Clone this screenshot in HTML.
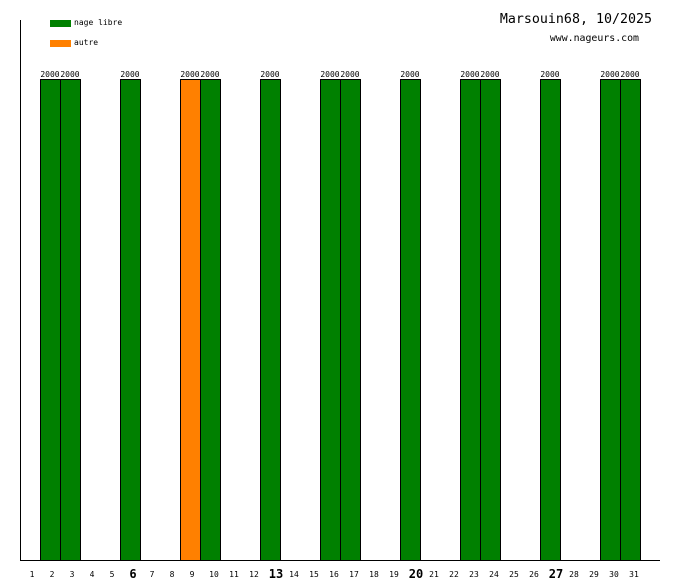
<!DOCTYPE html>
<html><head><meta charset="utf-8"><style>
html,body{margin:0;padding:0;background:#fff;}
svg{display:block;}
text{font-family:"DejaVu Sans Mono","Liberation Mono",monospace;fill:#000;}
</style></head><body>
<svg width="680" height="580" viewBox="0 0 680 580" xmlns="http://www.w3.org/2000/svg">
<rect width="680" height="580" fill="#fff"/>
<line x1="20.5" y1="20" x2="20.5" y2="560" stroke="#000"/>
<line x1="20" y1="560.5" x2="660" y2="560.5" stroke="#000"/>
<rect x="50" y="20" width="21" height="7" fill="#008000"/>
<text x="74" y="25" font-size="8">nage libre</text>
<rect x="50" y="40" width="21" height="7" fill="#ff8000"/>
<text x="74" y="45" font-size="8">autre</text>
<text x="652" y="23" font-size="13.3" text-anchor="end">Marsouin68, 10/2025</text>
<text x="639" y="41" font-size="9.9" text-anchor="end">www.nageurs.com</text>
<g stroke="#000" stroke-width="1">
<rect x="40.5" y="79.5" width="20" height="481" fill="#008000"/>
<rect x="60.5" y="79.5" width="20" height="481" fill="#008000"/>
<rect x="120.5" y="79.5" width="20" height="481" fill="#008000"/>
<rect x="180.5" y="79.5" width="20" height="481" fill="#ff8000"/>
<rect x="200.5" y="79.5" width="20" height="481" fill="#008000"/>
<rect x="260.5" y="79.5" width="20" height="481" fill="#008000"/>
<rect x="320.5" y="79.5" width="20" height="481" fill="#008000"/>
<rect x="340.5" y="79.5" width="20" height="481" fill="#008000"/>
<rect x="400.5" y="79.5" width="20" height="481" fill="#008000"/>
<rect x="460.5" y="79.5" width="20" height="481" fill="#008000"/>
<rect x="480.5" y="79.5" width="20" height="481" fill="#008000"/>
<rect x="540.5" y="79.5" width="20" height="481" fill="#008000"/>
<rect x="600.5" y="79.5" width="20" height="481" fill="#008000"/>
<rect x="620.5" y="79.5" width="20" height="481" fill="#008000"/>
</g>
<g font-size="8" text-anchor="middle">
<text x="50" y="77">2000</text><text x="70" y="77">2000</text>
<text x="130" y="77">2000</text>
<text x="190" y="77">2000</text><text x="210" y="77">2000</text>
<text x="270" y="77">2000</text>
<text x="330" y="77">2000</text><text x="350" y="77">2000</text>
<text x="410" y="77">2000</text>
<text x="470" y="77">2000</text><text x="490" y="77">2000</text>
<text x="550" y="77">2000</text>
<text x="610" y="77">2000</text><text x="630" y="77">2000</text>
</g>
<g font-size="8" text-anchor="middle">
<text x="32" y="577">1</text><text x="52" y="577">2</text><text x="72" y="577">3</text><text x="92" y="577">4</text><text x="112" y="577">5</text>
<text x="152" y="577">7</text><text x="172" y="577">8</text><text x="192" y="577">9</text><text x="214" y="577">10</text><text x="234" y="577">11</text><text x="254" y="577">12</text>
<text x="294" y="577">14</text><text x="314" y="577">15</text><text x="334" y="577">16</text><text x="354" y="577">17</text><text x="374" y="577">18</text><text x="394" y="577">19</text>
<text x="434" y="577">21</text><text x="454" y="577">22</text><text x="474" y="577">23</text><text x="494" y="577">24</text><text x="514" y="577">25</text><text x="534" y="577">26</text>
<text x="574" y="577">28</text><text x="594" y="577">29</text><text x="614" y="577">30</text><text x="634" y="577">31</text>
</g>
<g font-size="12" font-weight="bold" text-anchor="middle">
<text x="133" y="578">6</text><text x="276" y="578">13</text><text x="416" y="578">20</text><text x="556" y="578">27</text>
</g>
</svg>
</body></html>
